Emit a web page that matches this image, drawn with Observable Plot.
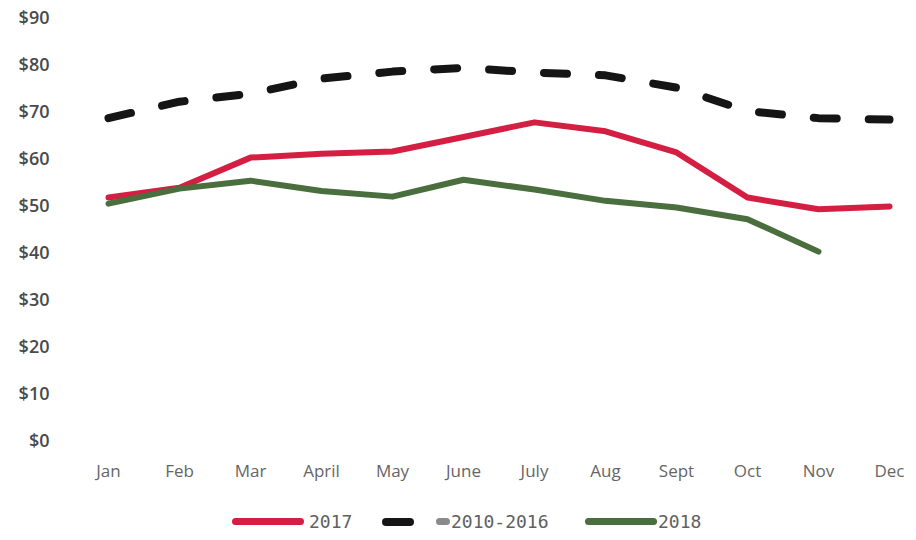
<!DOCTYPE html>
<html>
<head>
<meta charset="utf-8">
<script src="https://cdn.jsdelivr.net/npm/d3@7"></script>
<script src="https://cdn.jsdelivr.net/npm/@observablehq/plot@0.6"></script>
<style>
  html, body { margin: 0; padding: 0; background: #fff; }
  #chart { width: 916px; }
  #legend { position: relative; height: 45px; font-family: "DejaVu Sans Mono", monospace; font-size: 18px; color: #606060; }
  .item { position: absolute; top: 16px; display: flex; align-items: center; }
  .sw { display: inline-block; border-radius: 4px; }
</style>
</head>
<body>
<div id="chart"></div>
<div id="legend"></div>
<script>
const months = ["Jan","Feb","Mar","April","May","June","July","Aug","Sept","Oct","Nov","Dec"];
const avg2010_2016 = [68.8, 72.3, 74.0, 77.2, 78.7, 79.5, 78.5, 77.9, 75.3, 70.3, 68.8, 68.5];
const y2017 = [51.9, 54.0, 60.4, 61.2, 61.7, 64.8, 67.9, 66.0, 61.5, 51.9, 49.4, 50.0];
const y2018 = [50.6, 53.8, 55.5, 53.3, 52.1, 55.7, 53.6, 51.2, 49.8, 47.3, 40.4];
const yTicks = [0,10,20,30,40,50,60,70,80,90];

const colors = {"2017": "#d41f42", "2010-2016": "#151515", "2018": "#4a6e3e"};

const rows = [];
avg2010_2016.forEach((v, i) => rows.push({series: "2010-2016", month: months[i], value: v}));
y2017.forEach((v, i) => rows.push({series: "2017", month: months[i], value: v}));
y2018.forEach((v, i) => rows.push({series: "2018", month: months[i], value: v}));

const chart = Plot.plot({
  width: 916,
  height: 495,
  marginTop: 18,
  marginBottom: 54,
  marginLeft: 105,
  marginRight: 25,
  style: {fontFamily: "'Open Sans', sans-serif", background: "#fff"},
  x: {type: "point", domain: months, padding: 0, label: null},
  y: {domain: [0, 90], label: null},
  marks: [
    Plot.ruleY(yTicks, {stroke: "#f3f3f3", strokeWidth: 1, x1: 60, x2: 905}),
    Plot.axisY({ticks: yTicks, tickSize: 0, tickPadding: 56, tickFormat: d => "$" + d,
      fontSize: 18, fontWeight: 600, fill: "#4a4a4a", label: null}),
    Plot.axisX({tickSize: 0, tickPadding: 23, fontSize: 17, fill: "#666", label: null}),
    Plot.line(rows.filter(d => d.series === "2010-2016"), {x: "month", y: "value",
      stroke: colors["2010-2016"], strokeWidth: 8, strokeDasharray: "23,32", strokeLinecap: "round", strokeLinejoin: "round"}),
    Plot.line(rows.filter(d => d.series === "2017"), {x: "month", y: "value",
      stroke: colors["2017"], strokeWidth: 6, strokeLinecap: "round", strokeLinejoin: "round"}),
    Plot.line(rows.filter(d => d.series === "2018"), {x: "month", y: "value",
      stroke: colors["2018"], strokeWidth: 6, strokeLinecap: "round", strokeLinejoin: "round"})
  ]
});
document.getElementById("chart").appendChild(chart);

const legend = document.getElementById("legend");
const items = [
  {name: "2017", left: 232, sw: [{w: 72, c: colors["2017"], h: 7, mr: 5}]},
  {name: "2010-2016", left: 382, sw: [{w: 32, c: colors["2010-2016"], h: 8, mr: 22}, {w: 14, c: "#8a8a8a", h: 7, mr: 1}]},
  {name: "2018", left: 585, sw: [{w: 72, c: colors["2018"], h: 7, mr: 1}]}
];
items.forEach(it => {
  const div = document.createElement("div");
  div.className = "item";
  div.style.left = it.left + "px";
  it.sw.forEach(s => {
    const sp = document.createElement("span");
    sp.className = "sw";
    sp.style.width = s.w + "px";
    sp.style.height = s.h + "px";
    sp.style.background = s.c;
    sp.style.marginRight = s.mr + "px";
    div.appendChild(sp);
  });
  const t = document.createElement("span");
  t.textContent = it.name;
  div.appendChild(t);
  legend.appendChild(div);
});
</script>
</body>
</html>
